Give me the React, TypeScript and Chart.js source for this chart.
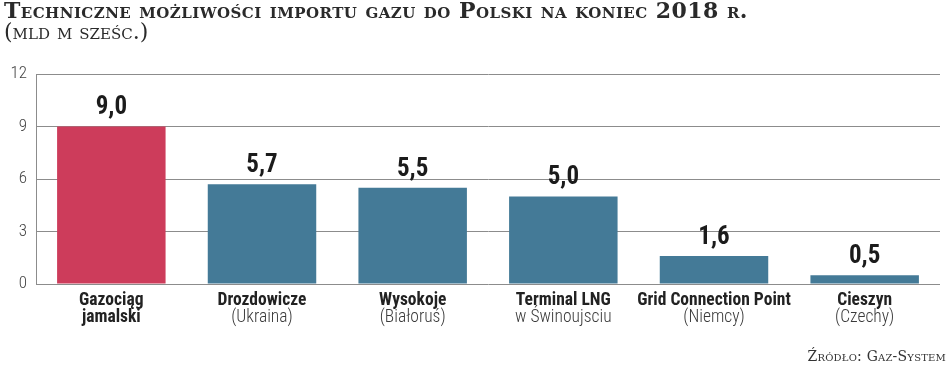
import React, { useEffect, useRef } from "react";
import { Chart, registerables } from "chart.js";

Chart.register(...registerables);

const categoryLine1 = ["Gazociąg", "Drozdowicze", "Wysokoje", "Terminal LNG", "Grid Connection Point", "Cieszyn"];
const categoryLine2 = ["jamalski", "(Ukraina)", "(Białoruś)", "w Świnoujsciu", "(Niemcy)", "(Czechy)"];
const line2Bold = [true, false, false, false, false, false];
const values = [9.0, 5.7, 5.5, 5.0, 1.6, 0.5];
const barColors = ["#cd3c5b", "#447a97", "#447a97", "#447a97", "#447a97", "#447a97"];
const yTicks = [0, 3, 6, 9, 12];

const COND = '"Roboto Condensed", "Liberation Sans Narrow", "DejaVu Sans Condensed", "Open Sans", sans-serif';
const SERIF = '"DejaVu Serif", "Liberation Serif", serif';

const labelsPlugin = {
  id: "customLabels",
  afterDatasetsDraw(chart: any) {
    const ctx = chart.ctx;
    const meta = chart.getDatasetMeta(0);
    ctx.save();
    ctx.fillStyle = "#1b1b1b";
    ctx.font = `bold 25px ${COND}`;
    ctx.textAlign = "center";
    ctx.textBaseline = "bottom";
    meta.data.forEach((bar: any, i: number) => {
      ctx.fillText(values[i].toFixed(1).replace(".", ","), bar.x, bar.y - 6);
    });
    const xs = chart.scales.x;
    const bottom = chart.chartArea.bottom;
    categoryLine1.forEach((_: string, i: number) => {
      const x = xs.getPixelForTick(i);
      ctx.textBaseline = "middle";
      ctx.fillStyle = "#222";
      ctx.font = `bold 17.5px ${COND}`;
      ctx.fillText(categoryLine1[i], x, bottom + 17);
      ctx.fillStyle = line2Bold[i] ? "#222" : "#3a3a3a";
      ctx.font = `${line2Bold[i] ? "bold" : "300"} 17.5px ${COND}`;
      ctx.fillText(categoryLine2[i], x, bottom + 34);
    });
    ctx.restore();
  },
};

export default function App() {
  const ref = useRef<HTMLCanvasElement>(null);
  useEffect(() => {
    document.body.style.margin = "0";
    const chart = new Chart(ref.current!, {
      type: "bar",
      data: {
        labels: categoryLine1,
        datasets: [
          {
            data: values,
            backgroundColor: barColors,
            borderWidth: 0,
            barPercentage: 0.72,
            categoryPercentage: 1,
          },
        ],
      },
      options: {
        animation: false,
        responsive: false,
        maintainAspectRatio: false,
        layout: { padding: { top: 74, bottom: 86, right: 8, left: 0 } },
        plugins: { legend: { display: false }, tooltip: { enabled: false }, title: { display: false } },
        scales: {
          x: {
            grid: { display: false },
            border: { display: false },
            ticks: { display: false },
            afterFit: (s: any) => {
              s.height = 0;
            },
          },
          y: {
            min: 0,
            max: 12,
            afterBuildTicks: (s: any) => {
              s.ticks = yTicks.map((v) => ({ value: v }));
            },
            afterFit: (s: any) => {
              s.width = 36;
            },
            grid: { color: "#8c8c8c", lineWidth: 1, drawTicks: false },
            border: { display: true, color: "#8c8c8c", width: 1 },
            ticks: {
              padding: 9,
              color: "#444",
              font: { family: COND, size: 17, weight: "300" as any },
            },
          },
        },
      },
      plugins: [labelsPlugin],
    });
    return () => chart.destroy();
  }, []);

  return (
    <div style={{ position: "relative", width: 948, height: 370, background: "#fff", overflow: "hidden" }}>
      <canvas ref={ref} width={948} height={370} style={{ position: "absolute", left: 0, top: 0 }} />
      <div
        style={{
          position: "absolute",
          left: 4,
          top: -2,
          fontFamily: SERIF,
          fontWeight: "bold",
          fontVariant: "small-caps",
          fontSize: 22,
          letterSpacing: "0.45px",
          color: "#2a2a2a",
          whiteSpace: "nowrap",
          lineHeight: "24px",
        }}
      >
        Techniczne możliwości importu gazu do Polski na koniec 2018 r.
      </div>
      <div
        style={{
          position: "absolute",
          left: 4,
          top: 20,
          fontFamily: SERIF,
          fontVariant: "small-caps",
          fontSize: 22,
          color: "#2a2a2a",
          whiteSpace: "nowrap",
          lineHeight: "24px",
        }}
      >
        (mld m sześc.)
      </div>
      <div
        style={{
          position: "absolute",
          right: 2,
          top: 347,
          fontFamily: SERIF,
          fontVariant: "small-caps",
          fontSize: 14,
          letterSpacing: "0.2px",
          color: "#333",
          whiteSpace: "nowrap",
          lineHeight: "18px",
        }}
      >
        Źródło: Gaz-System
      </div>
    </div>
  );
}
